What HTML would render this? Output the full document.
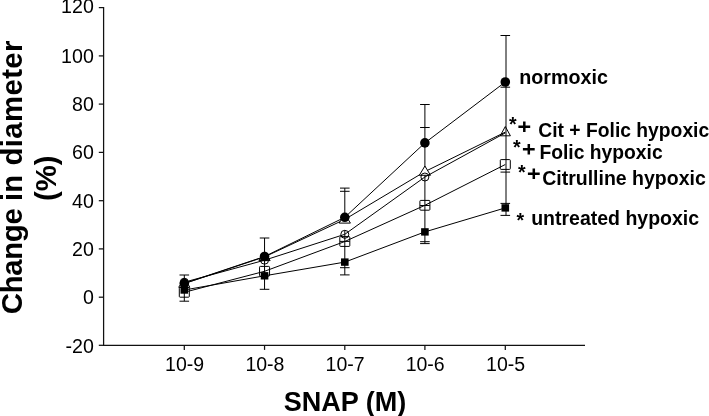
<!DOCTYPE html>
<html><head><meta charset="utf-8"><title>chart</title>
<style>
html,body{margin:0;padding:0;background:#fff;}
body{width:709px;height:416px;overflow:hidden;font-family:"Liberation Sans",sans-serif;}
svg{display:block;will-change:transform;filter:blur(0.3px);}
text{font-family:"Liberation Sans",sans-serif;fill:#000;}
.b{font-weight:bold;}
</style></head><body>
<svg width="709" height="416" viewBox="0 0 709 416">
<rect width="709" height="416" fill="#fff"/>

<g stroke="#111" stroke-width="1.25" fill="none">
<path d="M103.6 7 V345.3 H585"/>
<path d="M98.8 7.6 H103.6"/>
<path d="M98.8 55.9 H103.6"/>
<path d="M98.8 104.1 H103.6"/>
<path d="M98.8 152.4 H103.6"/>
<path d="M98.8 200.7 H103.6"/>
<path d="M98.8 248.9 H103.6"/>
<path d="M98.8 297.2 H103.6"/>
<path d="M98.8 345.3 H103.6"/>
<path d="M184.3 345.3 V349.90000000000003"/>
<path d="M264.55 345.3 V349.90000000000003"/>
<path d="M344.8 345.3 V349.90000000000003"/>
<path d="M424.9 345.3 V349.90000000000003"/>
<path d="M505.3 345.3 V349.90000000000003"/>
</g>
<text x="93.8" y="13.4" font-size="19.6" text-anchor="end">120</text>
<text x="93.8" y="62.5" font-size="19.6" text-anchor="end">100</text>
<text x="93.8" y="110.9" font-size="19.6" text-anchor="end">80</text>
<text x="93.8" y="159.4" font-size="19.6" text-anchor="end">60</text>
<text x="93.8" y="207.7" font-size="19.6" text-anchor="end">40</text>
<text x="93.8" y="255.9" font-size="19.6" text-anchor="end">20</text>
<text x="93.8" y="304.2" font-size="19.6" text-anchor="end">0</text>
<text x="93.8" y="352.5" font-size="19.6" text-anchor="end">-20</text>
<text x="184.6" y="371.3" font-size="19.5" text-anchor="middle">10-9</text>
<text x="264.9" y="371.3" font-size="19.5" text-anchor="middle">10-8</text>
<text x="345.1" y="371.3" font-size="19.5" text-anchor="middle">10-7</text>
<text x="425.2" y="371.3" font-size="19.5" text-anchor="middle">10-6</text>
<text x="505.6" y="371.3" font-size="19.5" text-anchor="middle">10-5</text>
<text class="b" x="345" y="410.8" font-size="27.05" text-anchor="middle">SNAP (M)</text>
<text class="b" transform="translate(21.7 314.2) rotate(-90)" font-size="29.4" textLength="106.0" lengthAdjust="spacing">Change</text>
<text class="b" transform="translate(21.7 200.9) rotate(-90)" font-size="29.4" textLength="26.1" lengthAdjust="spacing">in</text>
<text class="b" transform="translate(21.7 165.6) rotate(-90)" font-size="29.4" textLength="125.1" lengthAdjust="spacing">diameter</text>
<text class="b" transform="translate(56.3 178.2) rotate(-90)" font-size="29.4" text-anchor="middle">(%)</text>
<g stroke="#000" stroke-width="1" fill="none">
<polyline points="184.3,283.4 264.55,256.5 344.8,217.3 424.9,142.9 505.3,82.0"/>
<polyline points="184.3,283.6 264.55,256.9 344.8,219.4 424.9,171.6 505.3,132.1"/>
<path d="M184.3 275.0 V301.2"/>
<path d="M179.5 275.0 H189.10000000000002"/>
<path d="M179.5 301.2 H189.10000000000002"/>
<path d="M264.55 238.0 V289.3"/>
<path d="M259.75 238.0 H269.35"/>
<path d="M259.75 289.3 H269.35"/>
<path d="M344.8 188.1 V219 M344.8 230.3 V274.9"/>
<path d="M340.0 188.1 H349.6"/>
<path d="M340.0 191.3 H349.6"/>
<path d="M340.0 241.4 H349.6"/>
<path d="M340.0 267.7 H349.6"/>
<path d="M340.0 274.9 H349.6"/>
<path d="M424.9 104.5 V243.6"/>
<path d="M420.09999999999997 104.5 H429.7"/>
<path d="M420.09999999999997 127.5 H429.7"/>
<path d="M420.09999999999997 205.5 H429.7"/>
<path d="M420.09999999999997 241.7 H429.7"/>
<path d="M420.09999999999997 243.6 H429.7"/>
<path d="M506.0 35.5 V215.4"/>
<path d="M500.5 35.5 H510.1"/>
<path d="M500.5 87.2 H510.1"/>
<path d="M500.5 172.1 H510.1"/>
<path d="M500.5 203.4 H510.1"/>
<path d="M500.5 215.4 H510.1"/>
<path d="M184.3 278.0 L189.9 287.3 H178.70000000000002 Z" fill="#fff"/>
<path d="M264.55 251.29999999999998 L270.15000000000003 260.59999999999997 H258.95 Z" fill="#fff"/>
<path d="M344.8 213.8 L350.40000000000003 223.1 H339.2 Z" fill="#fff"/>
<path d="M424.9 166.0 L430.5 175.29999999999998 H419.29999999999995 Z" fill="#fff"/>
<path d="M505.3 126.5 L510.40000000000003 135.79999999999998 H500.2 Z" fill="none"/>
<polyline points="184.3,282.2 264.55,260.2 344.8,234.3 424.9,177.0 505.3,132.9"/>
<polyline points="184.3,292.3 264.55,271.3 344.8,241.5 424.9,205.3 505.3,164.5"/>
<polyline points="184.3,290.0 264.55,275.8 344.8,262.1 424.9,231.9 505.3,207.9"/>
<circle cx="184.3" cy="282.2" r="4"/>
<circle cx="264.55" cy="260.2" r="4"/>
<circle cx="344.8" cy="234.3" r="4"/>
<circle cx="424.9" cy="177.0" r="4"/>
<rect x="179.30" y="287.40" width="10" height="9.8" rx="0.8"/>
<rect x="259.55" y="266.40" width="10" height="9.8" rx="0.8"/>
<rect x="339.80" y="236.60" width="10" height="9.8" rx="0.8"/>
<rect x="419.90" y="200.40" width="10" height="9.8" rx="0.8"/>
<rect x="500.30" y="159.60" width="10" height="9.8" rx="0.8"/>
</g>
<g fill="#000">
<rect x="180.50" y="286.30" width="7.6" height="7.4"/>
<rect x="260.75" y="272.10" width="7.6" height="7.4"/>
<rect x="341.00" y="258.40" width="7.6" height="7.4"/>
<rect x="421.10" y="228.20" width="7.6" height="7.4"/>
<rect x="501.50" y="204.20" width="7.6" height="7.4"/>
<circle cx="184.3" cy="283.4" r="4.8"/>
<circle cx="264.55" cy="256.5" r="4.8"/>
<circle cx="344.8" cy="217.3" r="4.8"/>
<circle cx="424.9" cy="142.9" r="4.8"/>
<circle cx="505.3" cy="82.0" r="4.8"/>
</g>
<text class="b" x="519.3" y="83.9" font-size="19.7">normoxic</text>
<text class="b" x="538.3" y="137.1" font-size="19.3">Cit + Folic hypoxic</text>
<text class="b" x="539.4" y="158.6" font-size="19.3">Folic hypoxic</text>
<text class="b" x="542.2" y="184.8" font-size="19.5">Citrulline hypoxic</text>
<text class="b" x="531.2" y="224.6" font-size="19.5">untreated hypoxic</text>
<text class="b" x="508.9" y="131.3" font-size="19.6">*</text>
<text class="b" x="513.0" y="153.7" font-size="19.6">*</text>
<text class="b" x="517.9" y="178.7" font-size="19.6">*</text>
<text class="b" x="516.6" y="227.1" font-size="19.6">*</text>
<g stroke="#000" stroke-width="2.5" fill="none">
<path d="M518.4 126.7 h11.8 M524.3 121.5 v10.4"/>
<path d="M522.9 149.2 h11.8 M528.8 144.0 v10.4"/>
<path d="M527.9 173.8 h11.8 M533.8 168.60000000000002 v10.4"/>
</g>
</svg></body></html>
